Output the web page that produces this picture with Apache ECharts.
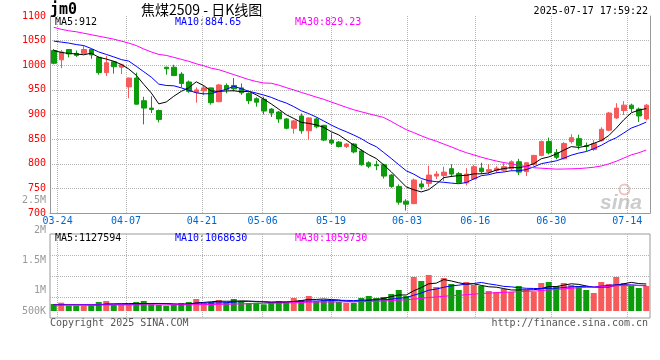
<!DOCTYPE html>
<html><head><meta charset="utf-8">
<script src="https://cdn.jsdelivr.net/npm/echarts@6/dist/echarts.min.js"></script>
<style>html,body{margin:0;padding:0;background:#fff}#c{width:660px;height:360px}</style>
</head><body><div id="c"></div>
<script>
const dates = ['03-21','03-24','03-25','03-26','03-27','03-28','03-31','04-01','04-02','04-03','04-07','04-08','04-09','04-10','04-11','04-14','04-15','04-16','04-17','04-18','04-21','04-22','04-23','04-24','04-25','04-28','04-29','04-30','05-06','05-07','05-08','05-09','05-12','05-13','05-14','05-15','05-16','05-19','05-20','05-21','05-22','05-23','05-26','05-27','05-28','05-29','05-30','06-03','06-04','06-05','06-06','06-09','06-10','06-11','06-12','06-13','06-16','06-17','06-18','06-19','06-20','06-23','06-24','06-25','06-26','06-27','06-30','07-01','07-02','07-03','07-04','07-07','07-08','07-09','07-10','07-11','07-14','07-15','07-16','07-17'];
const tickDates = ['03-24','04-07','04-21','05-06','05-19','06-03','06-16','06-30','07-14'];

const opens  = [1030,1011,1032,1024,1024,1032,1016,985,1007,996, 956,974,928,913,908,996,996,982,966,945, 948,954,926,959,959,954,943,932,931,911, 905,891,872,897,867,891,878,848,844,835, 840,826,802,798,798,777,754,724,719,759, 760,775,776,790,780,761,769,791,784,786, 787,790,804,784,799,817,845,823,810,845, 851,837,829,847,868,893,908,919,911,891];
const closes = [1004,1027,1023,1020,1032,1021,985,1005,997,1001, 974,921,913,910,890,993,979,963,947,950, 954,924,960,951,952,944,928,925,907,903, 891,872,887,867,893,875,848,842,835,840, 824,798,795,796,775,754,722,718,767,753, 777,779,783,779,762,779,794,784,788,791, 794,804,783,802,817,845,822,813,841,853, 837,835,841,870,903,913,919,912,897,919];
const lows   = [1002,994,1016,1017,1023,1013,981,978,983,982, 933,920,880,903,884,981,978,955,944,924, 939,920,925,943,947,940,921,916,900,895, 883,870,861,861,849,872,846,838,833,832, 821,796,791,787,770,751,717,705,718,748, 753,769,765,773,760,756,768,779,779,781, 784,786,777,775,796,815,819,809,809,841, 829,826,826,845,866,891,899,905,885,888];
const highs  = [1033,1031,1033,1030,1039,1033,1018,1019,1009,1003, 975,985,936,937,910,997,1001,986,969,955, 958,955,962,963,974,963,945,935,936,913, 907,893,889,902,894,894,879,862,846,842, 842,829,805,806,800,779,758,728,770,766, 796,785,794,799,783,791,798,802,799,795, 802,807,810,803,818,847,853,830,844,860, 859,843,848,874,905,923,927,922,914,921];

const ma5  = [1030,1026,1024,1023,1021.2,1024.6,1016.2,1012.6,1008,1001.8,992.4,979.6,961.2,943.8,921.6,925.4,937,947,954.4,966.4,958.6,947.6,947,947.8,948.2,946.2,947,940,931.2,921.4,910.8,899.6,892,884,882,878.8,874,865,858.6,848,837.8,827.8,818.4,810.6,797.6,783.6,768.4,753,747.2,742.8,747.4,758.8,771.8,774.2,776,776.4,779.4,779.6,781.4,787.2,790.2,792.2,792,794.8,800,810.2,813.8,819.8,827.6,834.8,833.2,835.8,841.4,847.2,857.2,872.4,889.2,903.4,908.8,912];
const ma10 = [1049,1047,1045,1042,1040,1034,1027,1022,1017,1011.5,1008.5,997.9,986.9,975.9,961.7,958.9,958.3,954.1,949.1,944,942,942.3,947,951.1,957.3,952.4,947.3,943.5,939.5,934.8,928.5,923.3,916,907.6,901.7,894.8,886.8,878.5,871.3,865,858.3,850.9,841.7,834.6,822.8,810.7,798.1,785.7,778.9,770.2,765.5,763.6,762.4,760.7,759.4,761.9,769.1,775.7,777.8,781.6,783.3,785.8,785.8,788.1,793.6,800.2,803,805.9,811.2,817.4,821.7,824.8,830.6,837.4,846,852.8,862.5,872.4,878,884.6];
const ma30 = [1077,1073,1070,1068,1065,1062,1059,1056,1053,1049,1045,1040,1033,1027,1022,1020,1016,1012,1008,1003,999,994,991,986,981,976,971,967,964,963.4,959.7,954.5,950,944.9,940.2,935.4,930.8,925.4,920,914.6,909.6,905.5,901.6,897.8,893.9,886,877.4,869.2,863.2,856.7,850.8,845.9,840,834.3,828,822.5,818,813.3,809.3,805.6,802.4,800.1,796.6,794.5,791.9,790.9,790.1,789.1,789.3,789.7,790.2,791.4,792.9,795.4,799.7,805,811.5,818,822.3,827.9];

const volumes = [293000,349000,223000,223000,223000,223000,377000,419000,251000,251000, 251000,377000,419000,279000,251000,223000,251000,335000,377000,502000, 335000,377000,460000,363000,502000,419000,335000,349000,279000,377000, 419000,377000,544000,460000,628000,405000,474000,419000,377000,335000, 335000,544000,628000,544000,586000,711000,879000,628000,1423000,1256000, 1507000,1004000,1381000,1130000,879000,1214000,1088000,1046000,837000,795000, 921000,795000,1046000,879000,795000,1172000,1214000,1046000,1172000,1088000, 1046000,879000,753000,1214000,1130000,1423000,1172000,1046000,963000,1046000];
const volMa5  = [270000,272000,268000,265000,262000,248000,254000,293000,299000,304000,310000,310000,310000,315000,315000,310000,285000,268000,287000,338000,360000,385000,410000,407000,407000,424000,416000,394000,377000,352000,352000,360000,399000,435000,486000,483000,502000,477000,461000,402000,388000,402000,444000,477000,527000,603000,670000,670000,845000,979000,1139000,1164000,1314000,1256000,1180000,1122000,1138000,1071000,1013000,996000,937000,879000,879000,887000,887000,937000,1021000,1021000,1080000,1138000,1113000,1046000,988000,996000,1004000,1080000,1138000,1197000,1147000,1130000];
const volMa10 = [255000,258000,260000,262000,265000,268000,272000,276000,280000,283000,279000,282000,301000,307000,310000,310000,297000,289000,301000,327000,335000,335000,339000,347000,373000,392000,401000,402000,392000,380000,388000,388000,396000,406000,419000,417000,431000,438000,448000,444000,435000,452000,461000,469000,465000,495000,536000,557000,661000,753000,871000,917000,992000,1051000,1080000,1130000,1151000,1193000,1134000,1088000,1030000,1009000,975000,950000,942000,937000,950000,950000,984000,1013000,1025000,1034000,1004000,1038000,1071000,1097000,1092000,1092000,1071000,1067000];
const volMa30 = [248000,248000,249000,249000,250000,250000,251000,252000,252000,253000,254000,255000,256000,257000,258000,259000,260000,262000,264000,266000,269000,273000,278000,284000,290000,297000,305000,313000,321000,330000,334000,335000,346000,354000,367000,373000,376000,376000,381000,383000,386000,392000,399000,407000,419000,435000,456000,466000,500000,526000,565000,586000,616000,642000,654000,681000,706000,729000,748000,762000,779000,792000,809000,823000,829000,854000,879000,900000,926000,951000,975000,986000,990000,1013000,1031000,1055000,1064000,1078000,1063000,1056000];

const priceMin = 700, priceMax = 1100, priceStep = 50;
const volLabelMin = 500000, volLabelMax = 2500000, volLabelStep = 500000;
const titleText = '焦煤2509 - 日K线图', codeText = 'jm0', timeText = '2025-07-17 17:59:22';
const maTexts = ['MA5:912', 'MA10:884.65', 'MA30:829.23'];
const volMaTexts = ['MA5:1127594', 'MA10:1068630', 'MA30:1059730'];

const RED = '#f65a5a', GREEN = '#0b9b0b';
const MONO = '"DejaVu Sans Mono", monospace';
const GRIDC = '#b4b4b4', AXISC = '#999999';
const isTick = (i, v) => tickDates.indexOf(v) >= 0;
const gridLine = () => ({ color: GRIDC, type: 'dotted', width: 1 });

const chart = echarts.init(document.getElementById('c'), null, { renderer: 'canvas' });
const txt = (left, top, text, fill, font) => ({ type: 'text', left, top, silent: true, style: { text, fill, font: font || ('10px ' + MONO) } });

chart.setOption({
  animation: false,
  backgroundColor: '#fff',
  grid: [
    { left: 50, top: 16, width: 600, height: 197 },
    { left: 50, top: 234, width: 600, height: 84, show: true, borderColor: AXISC, borderWidth: 1, backgroundColor: 'rgba(0,0,0,0)' },
    { left: 50, top: 234, width: 600, height: 77 },
    { left: 50, top: 200.5, width: 600, height: 120 }
  ],
  xAxis: [
    { gridIndex: 0, type: 'category', data: dates, boundaryGap: true, position: 'bottom',
      axisLine: { show: true, lineStyle: { color: AXISC } }, axisTick: { show: false }, axisLabel: { show: false }, splitLine: { show: false } },
    { gridIndex: 0, type: 'category', data: dates, boundaryGap: false, position: 'bottom',
      axisLine: { show: false }, axisTick: { show: false },
      axisLabel: { interval: isTick, color: '#0066cc', fontFamily: MONO, fontSize: 10, margin: 3 },
      splitLine: { show: true, interval: isTick, lineStyle: gridLine() } },
    { gridIndex: 1, type: 'category', data: dates, boundaryGap: false, position: 'bottom',
      axisLine: { show: false }, axisTick: { show: false }, axisLabel: { show: false },
      splitLine: { show: true, interval: isTick, lineStyle: gridLine() } },
    { gridIndex: 2, type: 'category', data: dates, boundaryGap: true, show: false },
    { gridIndex: 3, type: 'category', data: dates, show: false }
  ],
  yAxis: [
    { gridIndex: 0, type: 'value', min: priceMin, max: priceMax, interval: priceStep, position: 'left',
      axisLine: { show: true, lineStyle: { color: AXISC } }, axisTick: { show: false },
      axisLabel: { color: '#ff0000', fontFamily: MONO, fontSize: 10, margin: 4, showMinLabel: true, showMaxLabel: true, formatter: v => String(v) },
      splitLine: { show: true, showMaxLine: false, showMinLine: false, lineStyle: gridLine() } },
    { gridIndex: 0, type: 'value', min: priceMin, max: priceMax, interval: priceStep, position: 'right',
      axisLine: { show: true, lineStyle: { color: AXISC } }, axisTick: { show: false }, axisLabel: { show: false }, splitLine: { show: false } },
    { gridIndex: 1, type: 'value', min: 0, max: 4, interval: 1,
      axisLine: { show: false }, axisTick: { show: false }, axisLabel: { show: false },
      splitLine: { show: true, showMaxLine: false, showMinLine: false, lineStyle: gridLine() } },
    { gridIndex: 2, type: 'value', min: 0, max: 3220000, show: false },
    { gridIndex: 3, type: 'value', min: volLabelMin, max: volLabelMax, interval: volLabelStep, position: 'left',
      axisLine: { show: false }, axisTick: { show: false }, splitLine: { show: false },
      axisLabel: { color: '#999999', fontFamily: MONO, fontSize: 10, margin: 4, showMinLabel: true, showMaxLabel: true,
        formatter: v => v >= 1000000 ? '{n|' + (v / 1000000) + 'M}' : '{lo|' + (v / 1000) + 'K}',
        rich: { n: { fontFamily: MONO, fontSize: 10, color: '#999999' },
                lo: { fontFamily: MONO, fontSize: 10, color: '#999999', padding: [0, 0, 19, 0] } } } }
  ],
  series: [
    { type: 'candlestick', xAxisIndex: 0, yAxisIndex: 0, barWidth: 5, silent: true,
      data: dates.map((d, i) => [opens[i], closes[i], lows[i], highs[i]]),
      itemStyle: { color: RED, color0: GREEN, borderColor: RED, borderColor0: GREEN, borderWidth: 1 } },
    { type: 'line', xAxisIndex: 0, yAxisIndex: 0, data: ma5, symbol: 'none', silent: true, lineStyle: { color: '#000000', width: 1 } },
    { type: 'line', xAxisIndex: 0, yAxisIndex: 0, data: ma10, symbol: 'none', silent: true, lineStyle: { color: '#0000ff', width: 1 } },
    { type: 'line', xAxisIndex: 0, yAxisIndex: 0, data: ma30, symbol: 'none', silent: true, lineStyle: { color: '#ff00ff', width: 1 } },
    { type: 'bar', xAxisIndex: 3, yAxisIndex: 3, barWidth: 6, silent: true, data: volumes,
      itemStyle: { color: p => closes[p.dataIndex] >= opens[p.dataIndex] ? RED : GREEN } },
    { type: 'line', xAxisIndex: 3, yAxisIndex: 3, data: volMa5, symbol: 'none', silent: true, lineStyle: { color: '#000000', width: 1 } },
    { type: 'line', xAxisIndex: 3, yAxisIndex: 3, data: volMa10, symbol: 'none', silent: true, lineStyle: { color: '#0000ff', width: 1 } },
    { type: 'line', xAxisIndex: 3, yAxisIndex: 3, data: volMa30, symbol: 'none', silent: true, lineStyle: { color: '#ff00ff', width: 1 } }
  ],
  graphic: [
    txt(50, 3, codeText, '#000', 'bold 15px ' + MONO),
    txt(141, 3, titleText, '#000', '14px "Noto Sans CJK SC", sans-serif'),
    { type: 'text', right: 12, top: 6, silent: true, style: { text: timeText, fill: '#000', font: '10px ' + MONO } },
    txt(55, 17, maTexts[0], '#000000'),
    txt(175, 17, maTexts[1], '#0000ff'),
    txt(295, 17, maTexts[2], '#ff00ff'),
    txt(55, 233.5, volMaTexts[0], '#000000'),
    txt(175, 233.5, volMaTexts[1], '#0000ff'),
    txt(295, 233.5, volMaTexts[2], '#ff00ff'),
    txt(50, 318, 'Copyright 2025 SINA.COM', '#555555'),
    { type: 'text', right: 12, top: 318, silent: true, style: { text: 'http://finance.sina.com.cn', fill: '#555555', font: '10px ' + MONO } },
    { type: 'text', left: 600, top: 193, silent: true, z: -1, style: { text: 'sina', fill: '#cccccc', font: 'italic bold 21px "Liberation Sans", sans-serif' } },
    { type: 'circle', left: 617, top: 182, silent: true, z: -1, shape: { r: 5 }, style: { fill: 'none', stroke: '#f2c2c2', lineWidth: 2 } }
  ]
});
</script>
</body></html>
